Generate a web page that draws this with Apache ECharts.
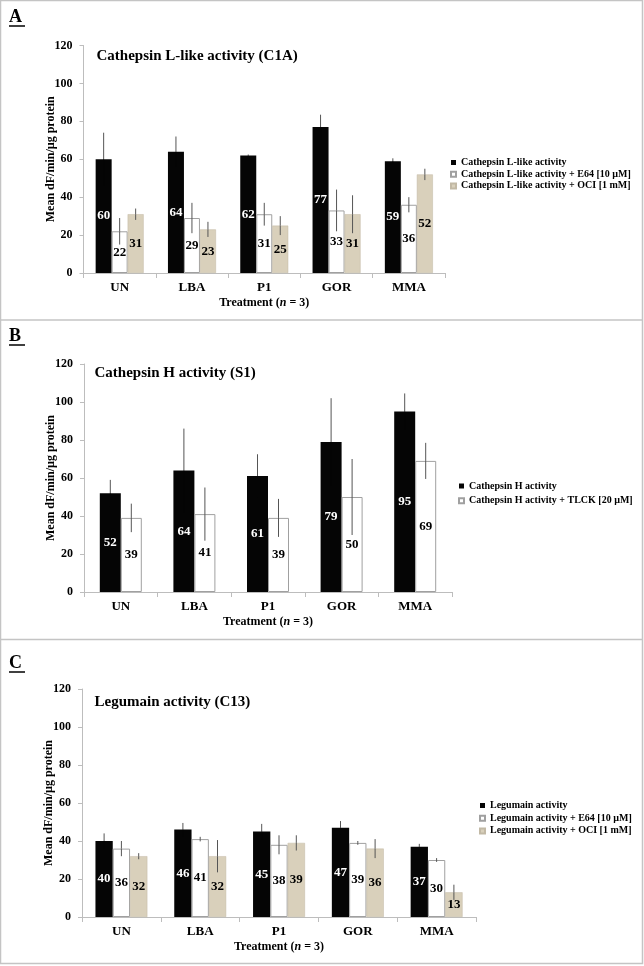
<!DOCTYPE html>
<html>
<head>
<meta charset="utf-8">
<script src="https://cdn.jsdelivr.net/npm/echarts@6/dist/echarts.min.js"></script>
<style>
html,body{margin:0;padding:0;background:#fff;}
#chart{width:644px;height:966px;}
</style>
</head>
<body>
<div id="chart"></div>
<script>
// ---------- DATA ----------
const categories = ['UN', 'LBA', 'P1', 'GOR', 'MMA'];
const yTicks = [0, 20, 40, 60, 80, 100, 120];

// Panel A: Cathepsin L-like activity (C1A)
const A_names = ['Cathepsin L-like activity', 'Cathepsin L-like activity + E64 [10 µM]', 'Cathepsin L-like activity + OCI [1 mM]'];
const A_main = [60, 64, 62, 77, 59];
const A_e64 = [22, 29, 31, 33, 36];
const A_oci = [31, 23, 25, 31, 52];
const A_main_sd = [14, 8, 0.5, 6.5, 1.5];
const A_e64_sd = [7, 8, 6, 11, 4];
const A_oci_sd = [3, 4, 5, 10, 3];

// Panel B: Cathepsin H activity (S1)
const B_names = ['Cathepsin H activity', 'Cathepsin H activity + TLCK [20 µM]'];
const B_main = [52, 64, 61, 79, 95];
const B_tlck = [39, 41, 39, 50, 69];
const B_main_sd = [7, 22, 11.5, 23, 9.5];
const B_tlck_sd = [7.5, 14, 10, 20, 9.5];

// Panel C: Legumain activity (C13)
const C_names = ['Legumain activity', 'Legumain activity + E64 [10 µM]', 'Legumain activity + OCI [1 mM]'];
const C_main = [40, 46, 45, 47, 37];
const C_e64 = [36, 41, 38, 39, 30];
const C_oci = [32, 32, 39, 36, 13];
const C_main_sd = [4, 3.5, 4, 3.5, 1.5];
const C_e64_sd = [4, 1.2, 5, 1, 1];
const C_oci_sd = [1.6, 8.5, 4, 5, 4];

// ---------- STYLE ----------
const FONT = 'Liberation Serif';
const AXIS_GRAY = '#bdbdbd';
const styles = [
  {color: '#050505', borderColor: '#050505', borderWidth: 0, label: '#ffffff', errIn: '#050505'},
  {color: '#ffffff', borderColor: '#a0a0a0', borderWidth: 1, label: '#000000', errIn: '#555555'},
  {color: '#d9d0bb', borderColor: '#c2b9a5', borderWidth: 0.5, label: '#000000', errIn: '#555555'}
];

const panels = [
  {title: 'Cathepsin L-like activity (C1A)', names: A_names, values: [A_main, A_e64, A_oci], sds: [A_main_sd, A_e64_sd, A_oci_sd],
   styleIdx: [0, 1, 2], grid: {left: 83.5, top: 45.5, width: 361.5, height: 227.5}, barWidth: 16,
   titlePos: {left: 96.5, top: 48.5}, legendPos: {left: 450, top: 157.5}, legendGap: 1.7},
  {title: 'Cathepsin H activity (S1)', names: B_names, values: [B_main, B_tlck], sds: [B_main_sd, B_tlck_sd],
   styleIdx: [0, 1], grid: {left: 84, top: 364, width: 368, height: 228}, barWidth: 21,
   titlePos: {left: 94.5, top: 365.5}, legendPos: {left: 458, top: 481}, legendGap: 4.7},
  {title: 'Legumain activity (C13)', names: C_names, values: [C_main, C_e64, C_oci], sds: [C_main_sd, C_e64_sd, C_oci_sd],
   styleIdx: [0, 1, 2], grid: {left: 82, top: 689, width: 394, height: 228}, barWidth: 17.3,
   titlePos: {left: 94.5, top: 694.5}, legendPos: {left: 479, top: 800.5}, legendGap: 2.7}
];

const grids = [], xAxes = [], yAxes = [], series = [], legends = [], titles = [];

panels.forEach((p, pi) => {
  grids.push(Object.assign({containLabel: false}, p.grid));
  xAxes.push({
    type: 'category', gridIndex: pi, data: categories,
    axisLine: {lineStyle: {color: AXIS_GRAY, width: 1}},
    axisTick: {show: true, length: 5, interval: 0, lineStyle: {color: AXIS_GRAY}},
    axisLabel: {color: '#000', fontFamily: FONT, fontWeight: 'bold', fontSize: 13, margin: 8},
    name: '{a|Treatment (}{b|n}{a| = 3)}', nameLocation: 'middle', nameGap: 24, nameMoveOverlap: false,
    nameTextStyle: {rich: {
      a: {fontFamily: FONT, fontWeight: 'bold', fontSize: 12, color: '#000'},
      b: {fontFamily: FONT, fontWeight: 'bold', fontStyle: 'italic', fontSize: 12, color: '#000'}
    }}
  });
  yAxes.push({
    type: 'value', gridIndex: pi, min: yTicks[0], max: yTicks[yTicks.length - 1], interval: yTicks[1] - yTicks[0],
    splitLine: {show: false},
    axisLine: {show: true, lineStyle: {color: AXIS_GRAY, width: 1}},
    axisTick: {show: true, length: 4, lineStyle: {color: AXIS_GRAY}},
    axisLabel: {color: '#000', fontFamily: FONT, fontWeight: 'bold', fontSize: 12, margin: 11},
    name: 'Mean dF/min/µg protein', nameLocation: 'middle', nameGap: 27, nameRotate: 90, nameMoveOverlap: false,
    nameTextStyle: {fontFamily: FONT, fontWeight: 'bold', fontSize: 12, color: '#000'}
  });
  titles.push({
    text: p.title, left: p.titlePos.left, top: p.titlePos.top, padding: 0,
    textStyle: {fontFamily: FONT, fontWeight: 'bold', fontSize: 15, color: '#000'}
  });
  const n = p.values.length;
  p.values.forEach((vals, si) => {
    const st = styles[p.styleIdx[si]];
    series.push({
      type: 'bar', name: p.names[si], xAxisIndex: pi, yAxisIndex: pi, data: vals,
      barWidth: p.barWidth, barGap: '0%',
      itemStyle: {color: st.color, borderColor: st.borderColor, borderWidth: st.borderWidth},
      label: {show: true, position: 'inside', color: st.label, fontFamily: FONT, fontWeight: 'bold', fontSize: 13},
      z: 2
    });
  });
  p.values.forEach((vals, si) => {
    const sd = p.sds[si];
    const st = styles[p.styleIdx[si]];
    const offset = (si - (n - 1) / 2) * p.barWidth;
    series.push({
      type: 'custom', xAxisIndex: pi, yAxisIndex: pi, z: 5, silent: true,
      data: vals.map((v, i) => [i, v - sd[i], v + sd[i], v]),
      renderItem: (params, api) => {
        const lo = api.coord([api.value(0), api.value(1)]);
        const hi = api.coord([api.value(0), api.value(2)]);
        const mid = api.coord([api.value(0), api.value(3)]);
        const x = lo[0] + offset;
        return {type: 'group', children: [
          {type: 'line', shape: {x1: x, y1: mid[1], x2: x, y2: hi[1]}, style: {stroke: '#555', lineWidth: 1}},
          {type: 'line', shape: {x1: x, y1: lo[1], x2: x, y2: mid[1]}, style: {stroke: st.errIn, lineWidth: 1}}
        ]};
      }
    });
  });
  legends.push({
    orient: 'vertical', left: p.legendPos.left, top: p.legendPos.top, padding: 0,
    itemWidth: 5, itemHeight: 5, itemGap: p.legendGap, icon: 'rect',
    data: p.names,
    textStyle: {fontFamily: FONT, fontWeight: 'bold', fontSize: 10, color: '#000', lineHeight: 10}
  });
});

const BORDER = '#c4c4c4';
const letters = [{t: 'A', y: 17}, {t: 'B', y: 336}, {t: 'C', y: 663}];
const graphics = [
  {type: 'rect', shape: {x: 0.5, y: 0.5, width: 642, height: 963}, style: {fill: 'none', stroke: BORDER, lineWidth: 1.5}, silent: true},
  {type: 'line', shape: {x1: 0, y1: 320, x2: 643, y2: 320}, style: {stroke: BORDER, lineWidth: 1.5}, silent: true},
  {type: 'line', shape: {x1: 0, y1: 639.5, x2: 643, y2: 639.5}, style: {stroke: BORDER, lineWidth: 1.5}, silent: true}
];
letters.forEach(l => {
  graphics.push({type: 'text', left: 9, top: l.y - 9, style: {text: l.t, font: 'bold 18px "' + FONT + '"', fill: '#000'}, silent: true});
  graphics.push({type: 'line', shape: {x1: 9, y1: l.y + 9, x2: 25, y2: l.y + 9}, style: {stroke: '#000', lineWidth: 1.5}, silent: true});
});

const chart = echarts.init(document.getElementById('chart'), null, {renderer: 'canvas'});
chart.setOption({
  animation: false,
  backgroundColor: '#fff',
  title: titles,
  grid: grids,
  xAxis: xAxes,
  yAxis: yAxes,
  legend: legends,
  series: series,
  graphic: graphics
});
</script>
</body>
</html>
